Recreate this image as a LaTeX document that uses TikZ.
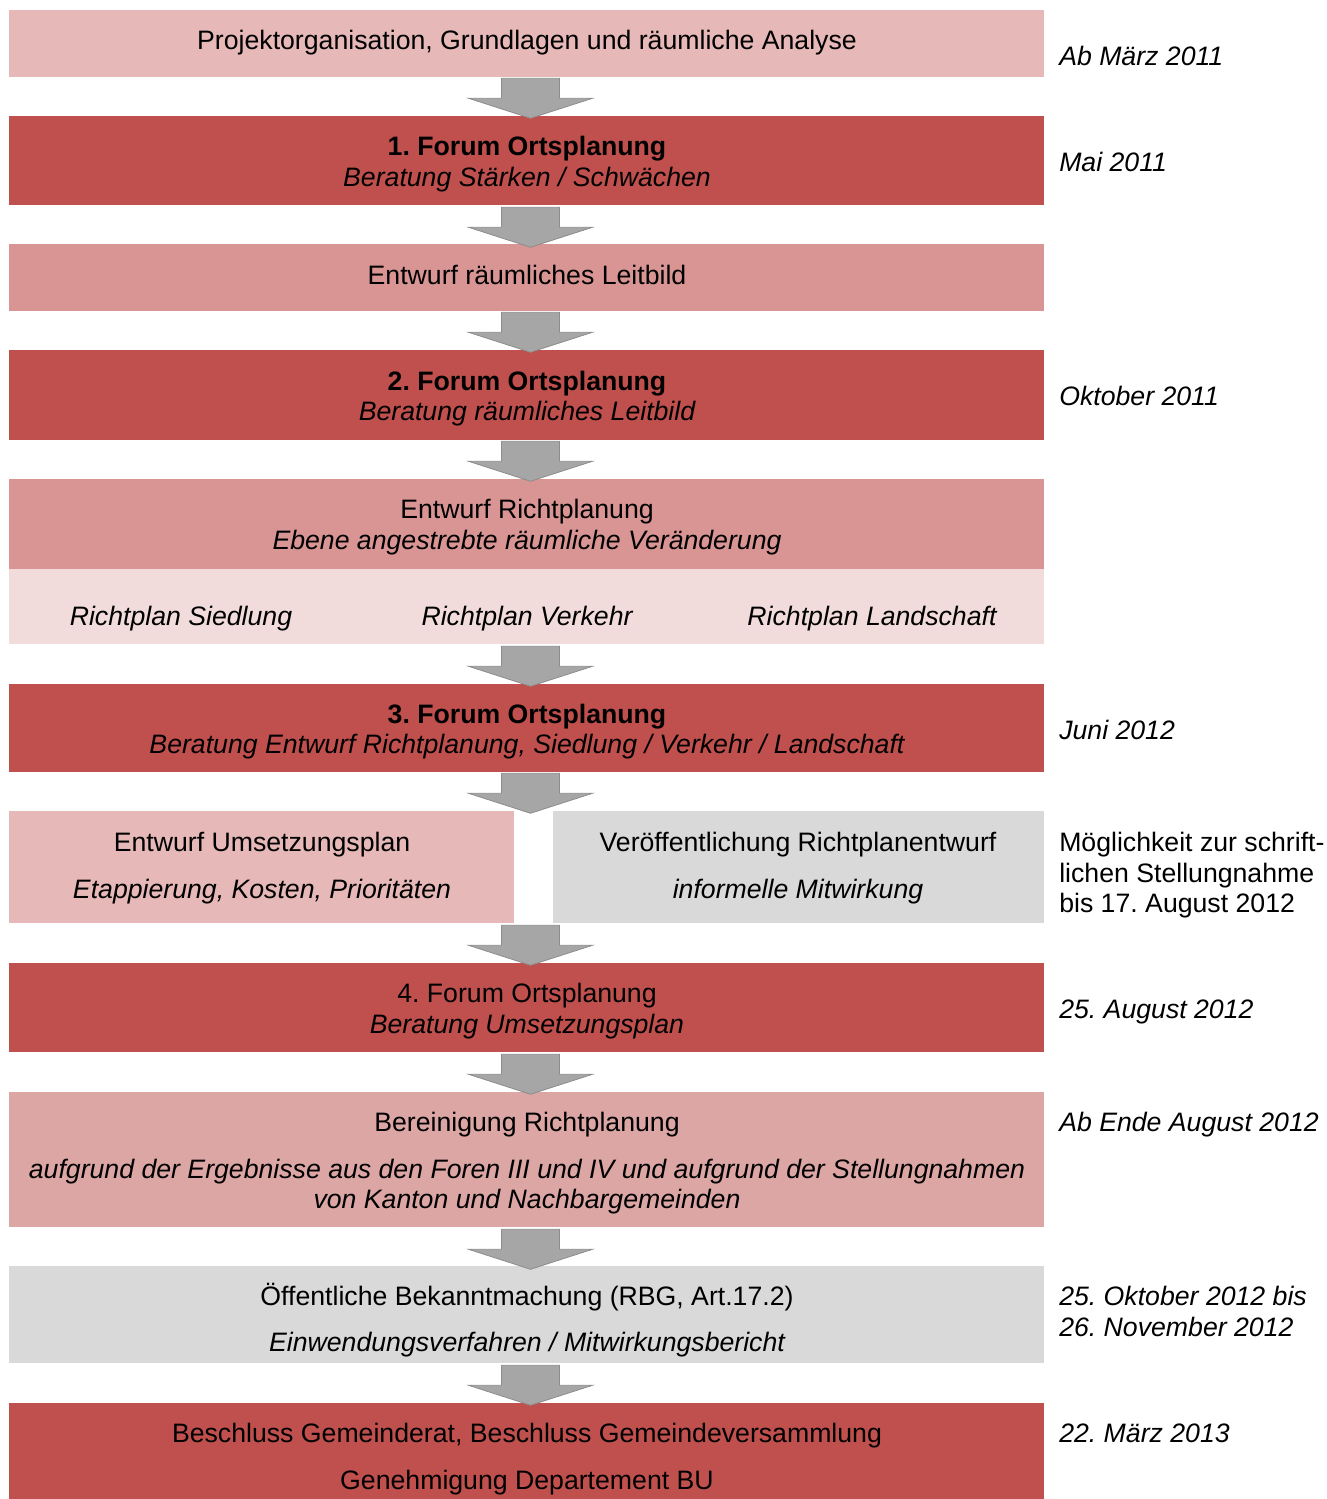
\documentclass[tikz,border=0pt]{standalone}
\usepackage{fontspec}
\setmainfont{Liberation Sans}
\usetikzlibrary{fit,calc}
\frenchspacing
\definecolor{cLight}{HTML}{E6B8B7}
\definecolor{cMid}{HTML}{D99594}
\definecolor{cMidB}{HTML}{DCA6A5}
\definecolor{cPale}{HTML}{F2DCDB}
\definecolor{cDark}{HTML}{C0504D}
\definecolor{cGray}{HTML}{D9D9D9}
\definecolor{cArrow}{HTML}{A6A6A6}
\definecolor{cArrowB}{HTML}{8C8C8C}
\newcommand\fsz{\fontsize{20}{24}\selectfont}
\tikzset{
  box/.style={inner sep=0pt, draw=none},
  txt/.style={anchor=base, inner sep=0pt, font=\fsz},
  itxt/.style={txt, font=\fsz\itshape},
  btxt/.style={txt, font=\fsz\bfseries},
  dtxt/.style={anchor=base west, inner sep=0pt, font=\fsz\itshape},
  ntxt/.style={anchor=base west, inner sep=0pt, font=\fsz},
  blockarrow/.pic={
    \path[fill=cArrow, draw=cArrowB, line width=0.6pt, line join=miter]
      (-29,0) -- (29,0) -- (29,20) -- (62,20) -- (0,40) -- (-62,20) -- (-29,20) -- cycle;
  }
}
\begin{document}
\begin{tikzpicture}[x=0.75pt, y=-0.75pt]
\useasboundingbox (0,0) rectangle (1327,1499);
% boxes
\node[box, fill=cLight, fit={(9,10)(1044,77)}] (b1) {};
\node[box, fill=cDark, fit={(9,116)(1044,205)}] (b2) {};
\node[box, fill=cMid, fit={(9,244)(1044,311)}] (b3) {};
\node[box, fill=cDark, fit={(9,350)(1044,440)}] (b4) {};
\node[box, fill=cMid, fit={(9,479)(1044,569)}] (b5) {};
\node[box, fill=cPale, fit={(9,569)(1044,644)}] (b6) {};
\node[box, fill=cDark, fit={(9,684)(1044,772)}] (b7) {};
\node[box, fill=cLight, fit={(9,811)(514,923)}] (b8a) {};
\node[box, fill=cGray, fit={(553,811)(1044,923)}] (b8b) {};
\node[box, fill=cDark, fit={(9,963)(1044,1052)}] (b9) {};
\node[box, fill=cMidB, fit={(9,1092)(1044,1227)}] (b10) {};
\node[box, fill=cGray, fit={(9,1266)(1044,1363)}] (b11) {};
\node[box, fill=cDark, fit={(9,1403)(1044,1499)}] (b12) {};
% arrows
\pic at ($(b1.south)+(4,1)$) {blockarrow};
\pic at ($(b2.south)+(4,2)$) {blockarrow};
\pic at ($(b3.south)+(4,1)$) {blockarrow};
\pic at ($(b4.south)+(4,1)$) {blockarrow};
\pic at ($(b6.south)+(4,2)$) {blockarrow};
\pic at ($(b7.south)+(4,1)$) {blockarrow};
\pic at ($(b8a.south east)!0.5!(b8b.south west)+(-3,2)$) {blockarrow};
\pic at ($(b9.south)+(4,2)$) {blockarrow};
\pic at ($(b10.south)+(4,2)$) {blockarrow};
\pic at ($(b11.south)+(4,2)$) {blockarrow};
% texts
\node[txt] (t1) at (527,49) {Projektorganisation, Grundlagen und räumliche Analyse};
\node[btxt] (t2a) at (527,155) {1. Forum Ortsplanung};
\node[itxt] (t2b) at (527,186) {Beratung Stärken / Schwächen};
\node[txt] (t3) at (527,284) {Entwurf räumliches Leitbild};
\node[btxt] (t4a) at (527,390) {2. Forum Ortsplanung};
\node[itxt] (t4b) at (527,420) {Beratung räumliches Leitbild};
\node[txt] (t5a) at (527,518) {Entwurf Richtplanung};
\node[itxt] (t5b) at (527,549) {Ebene angestrebte räumliche Veränderung};
\node[itxt] (t6a) at (181,625) {Richtplan Siedlung};
\node[itxt] (t6b) at (527,625) {Richtplan Verkehr};
\node[itxt] (t6c) at (872,625) {Richtplan Landschaft};
\node[btxt] (t7a) at (527,723) {3. Forum Ortsplanung};
\node[itxt] (t7b) at (527,753) {Beratung Entwurf Richtplanung, Siedlung / Verkehr / Landschaft};
\node[txt] (t8a) at (262,851) {Entwurf Umsetzungsplan};
\node[itxt] (t8b) at (262,898) {Etappierung, Kosten, Prioritäten};
\node[txt] (t8c) at (798,851) {Veröffentlichung Richtplanentwurf};
\node[itxt] (t8d) at (798,898) {informelle Mitwirkung};
\node[txt] (t9a) at (527,1002) {4. Forum Ortsplanung};
\node[itxt] (t9b) at (527,1033) {Beratung Umsetzungsplan};
\node[txt] (t10a) at (527,1131) {Bereinigung Richtplanung};
\node[itxt] (t10b) at (527,1178) {aufgrund der Ergebnisse aus den Foren III und IV und aufgrund der Stellungnahmen};
\node[itxt] (t10c) at (527,1208) {von Kanton und Nachbargemeinden};
\node[txt] (t11a) at (527,1305) {Öffentliche Bekanntmachung (RBG, Art.17.2)};
\node[itxt] (t11b) at (527,1351) {Einwendungsverfahren / Mitwirkungsbericht};
\node[txt] (t12a) at (527,1442) {Beschluss Gemeinderat, Beschluss Gemeindeversammlung};
\node[txt] (t12b) at (527,1489) {Genehmigung Departement BU};
% dates
\node[dtxt] (d1) at (1059,65) {Ab März 2011};
\node[dtxt] (d2) at (1059,171) {Mai 2011};
\node[dtxt] (d4) at (1059,405) {Oktober 2011};
\node[dtxt] (d7) at (1059,739) {Juni 2012};
\node[ntxt] (d8a) at (1059,851) {Möglichkeit zur schrift-};
\node[ntxt] (d8b) at (1059,882) {lichen Stellungnahme};
\node[ntxt] (d8c) at (1059,912) {bis 17. August 2012};
\node[dtxt] (d9) at (1059,1018) {25. August 2012};
\node[dtxt] (d10) at (1059,1131) {Ab Ende August 2012};
\node[dtxt] (d11a) at (1059,1305) {25. Oktober 2012 bis};
\node[dtxt] (d11b) at (1059,1336) {26. November 2012};
\node[dtxt] (d12) at (1059,1442) {22. März 2013};
\end{tikzpicture}
\end{document}
